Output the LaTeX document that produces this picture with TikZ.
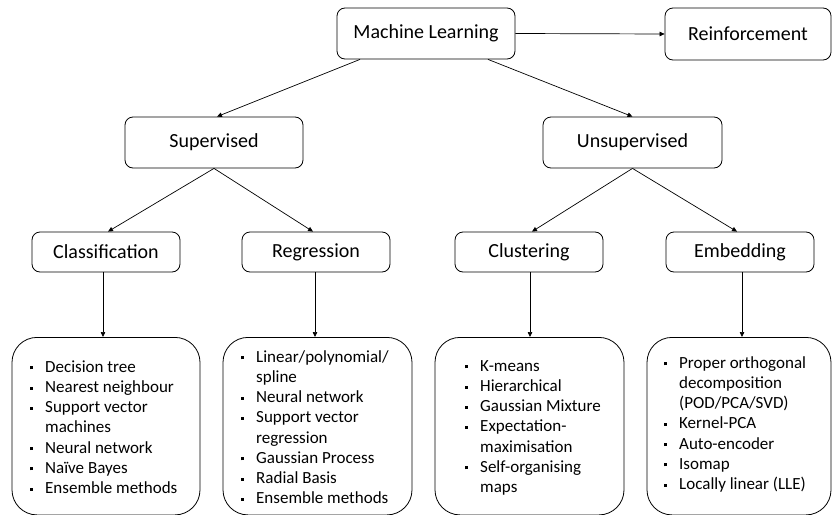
\documentclass[tikz,border=0pt]{standalone}
\usepackage{fontspec}
\setmainfont{Carlito}
\usetikzlibrary{arrows.meta,calc}
\newcommand\mybul{\makebox[15.5pt][l]{\raisebox{3pt}{\rule{3pt}{3pt}}}}
\newcommand\myind{\hspace*{15.5pt}}
\begin{document}
\begin{tikzpicture}[x=1pt,y=-1pt,
  hdr/.style={draw, line width=0.8pt, rounded corners=8pt, inner sep=0pt,
    font=\fontsize{20}{24}\selectfont},
  bigbox/.style={draw, line width=0.8pt, rounded corners=25pt, inner sep=0pt},
  lst/.style={align=left, inner sep=0pt, anchor=north west,
    font=\fontsize{17}{20.2}\selectfont},
  conn/.style={line width=0.7pt, -{Triangle[length=5pt,width=4.5pt]}}]
\useasboundingbox (0,0) rectangle (832,514);
% top level
\node[hdr, minimum width=178pt, minimum height=51pt] (ml) at (426,33.5) {Machine Learning};
\node[hdr, minimum width=166pt, minimum height=52pt] (rl) at (748,34) {Reinforcement};
\node[hdr, minimum width=178pt, minimum height=51pt] (sup) at (214,142.5) {Supervised};
\node[hdr, minimum width=179pt, minimum height=51pt] (uns) at (632.5,142.5) {Unsupervised};
% second level
\node[hdr, minimum width=148pt, minimum height=40pt] (cls) at (106,252) {Classification};
\node[hdr, minimum width=148pt, minimum height=40pt] (reg) at (316,252) {Regression};
\node[hdr, minimum width=148pt, minimum height=40pt] (clu) at (529,252) {Clustering};
\node[hdr, minimum width=148pt, minimum height=40pt] (emb) at (740,252) {Embedding};
% list boxes
\node[bigbox, minimum width=188pt, minimum height=177.5pt, anchor=north] (b1) at (106,337) {};
\node[bigbox, minimum width=189pt, minimum height=177.5pt, anchor=north] (b2) at (317.5,337) {};
\node[bigbox, minimum width=189pt, minimum height=177.5pt, anchor=north] (b3) at (529.5,337) {};
\node[bigbox, minimum width=184pt, minimum height=177.5pt, anchor=north] (b4) at (739,337) {};
% list texts
\node[lst] (t1) at (29.5,358) {\strut\mybul Decision tree\\\mybul Nearest neighbour\\\mybul Support vector\\\myind machines\\\mybul Neural network\\\mybul Naïve Bayes\\\mybul Ensemble methods};
\node[lst] (t2) at (240.5,348) {\strut\mybul Linear/polynomial/\\\myind spline\\\mybul Neural network\\\mybul Support vector\\\myind regression\\\mybul Gaussian Process\\\mybul Radial Basis\\\mybul Ensemble methods};
\node[lst] (t3) at (464.5,357) {\strut\mybul K-means\\\mybul Hierarchical\\\mybul Gaussian Mixture\\\mybul Expectation-\\\myind maximisation\\\mybul Self-organising\\\myind maps};
\node[lst] (t4) at (663.5,354) {\strut\mybul Proper orthogonal\\\myind decomposition\\\myind (POD/PCA/SVD)\\\mybul Kernel-PCA\\\mybul Auto-encoder\\\mybul Isomap\\\mybul Locally linear (LLE)};
% connectors
\draw[conn] (ml.east) -- (rl.west);
\draw[conn] ([xshift=-66pt]ml.south) -- ([xshift=3pt]sup.north);
\draw[conn] ([xshift=62pt]ml.south) -- (uns.north);
\draw[conn] (sup.south) -- ([xshift=2pt]cls.north);
\draw[conn] (sup.south) -- ([xshift=-3pt]reg.north);
\draw[conn] (uns.south) -- ([xshift=3pt]clu.north);
\draw[conn] (uns.south) -- ([xshift=-3pt]emb.north);
\draw[conn] ([xshift=-3pt]cls.south) -- ([xshift=-3pt]cls.south |- b1.north);
\draw[conn] ([xshift=-1pt]reg.south) -- ([xshift=-1pt]reg.south |- b2.north);
\draw[conn] ([xshift=1pt]clu.south) -- ([xshift=1pt]clu.south |- b3.north);
\draw[conn] ([xshift=2pt]emb.south) -- ([xshift=2pt]emb.south |- b4.north);
\end{tikzpicture}
\end{document}
